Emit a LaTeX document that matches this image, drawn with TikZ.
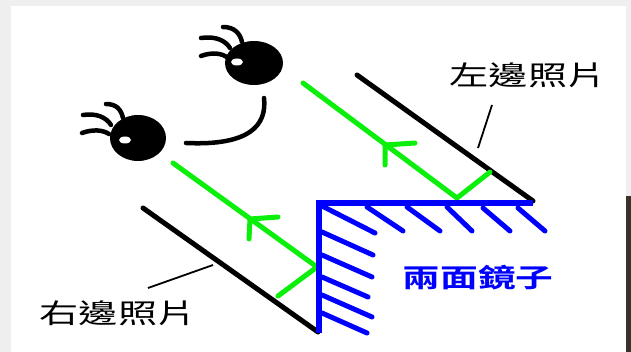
\documentclass[tikz,border=0pt]{standalone}
\usepackage{fontspec}
\newfontfamily\cjk{Noto Sans CJK TC}[BoldFont={Noto Sans CJK TC Bold}]
\definecolor{paper}{RGB}{239,239,239}
\definecolor{frame}{RGB}{58,50,40}
\definecolor{ray}{RGB}{10,240,10}
\definecolor{mirror}{RGB}{0,0,255}
\tikzset{
  photo/.style={line width=5pt, line cap=round, black},
  leader/.style={line width=1.8pt, black},
  lightray/.style={line width=5pt, line cap=round, line join=round, ray},
  arrowarm/.style={line width=5pt, line cap=round, ray},
  glass/.style={line width=6pt, mirror},
  hatch/.style={line width=5pt, line cap=round, mirror},
  lash/.style={line width=4.5pt, line cap=round, black},
  caption/.style={font=\cjk\fontsize{27}{27}\selectfont, inner sep=0pt},
}
\newcommand{\wide}[1]{\scalebox{1.45}[1]{#1}}
\begin{document}
\begin{tikzpicture}[x=1pt,y=-1pt]
\useasboundingbox (0,0) rectangle (631,352);
% page and frame
\fill[paper] (0,0) rectangle (631,352);
\fill[white] (11,6) rectangle (626,352);
\fill[frame] (626,196) rectangle (631,352);

% upper eye
\fill[black] (254,63) ellipse [x radius=29, y radius=22];
\fill[white] (237,62) ellipse [x radius=6, y radius=3.5];
\draw[lash] (223,27) .. controls (234,27) and (240,33) .. (242,42);
\draw[lash] (201,38) .. controls (215,36) and (225,40) .. (230,48);
\draw[lash] (201,56) .. controls (212,52) and (222,53) .. (228,58);
% lower eye
\fill[black] (138,138) ellipse [x radius=28, y radius=23];
\fill[white] (125,140) ellipse [x radius=6, y radius=3.5];
\draw[lash] (106,104) .. controls (116,104) and (121,109) .. (123,118);
\draw[lash] (83,115) .. controls (96,113) and (106,117) .. (111,125);
\draw[lash] (82,133) .. controls (93,129) and (103,130) .. (109,134);
% nose
\draw[line width=4.5pt, line cap=round, black]
  (264,98) .. controls (267,125) and (250,146) .. (186,143);

% photos
\coordinate (LA) at (357,75);  \coordinate (LB) at (533,201);
\coordinate (RA) at (143,208); \coordinate (RB) at (318,332);
\draw[photo] (LA) -- (LB);
\draw[photo] (RA) -- (RB);

% light rays
\coordinate (U0) at (303,83);  \coordinate (U1) at (457,198); \coordinate (U2) at (490,172);
\coordinate (D0) at (173,163); \coordinate (D1) at (317,267); \coordinate (D2) at (278,296);
\draw[lightray] (U0) -- (U1) -- (U2);
\draw[lightray] (D0) -- (D1) -- (D2);
\coordinate (UT) at (385,145);
\draw[arrowarm] (415,143) -- (UT) -- (385,165);
\coordinate (DT) at (250,219);
\draw[arrowarm] (278,217) -- (DT) -- (249,239);

% mirrors
\draw[glass] (319,333) -- (319,203) -- (533,203);
\foreach \a/\b/\c/\d in {322/206/375/233, 367/207/403/231, 407/207/440/231,
                         447/207/472/231, 483/208/510/231, 518/208/545/231,
                         322/232/373/255, 322/255/372/277, 322/277/368/297,
                         322/295/372/317, 322/313/367/333}
  \draw[hatch] (\a,\b) -- (\c,\d);

% labels
\node[caption] (lefttxt) at (528,75) {\wide{左邊照片}};
\node[caption] (righttxt) at (118,313) {\wide{右邊照片}};
\node[caption, text=mirror, font=\cjk\bfseries\fontsize{26}{26}\selectfont] (mirtxt) at (478,278) {\wide{兩面鏡子}};
\coordinate (lt) at (492,105); \coordinate (lb) at (478,148);
\coordinate (rt) at (213,265); \coordinate (rb) at (148,288);
\draw[leader] (lt) -- (lb);
\draw[leader] (rt) -- (rb);
\end{tikzpicture}
\end{document}
